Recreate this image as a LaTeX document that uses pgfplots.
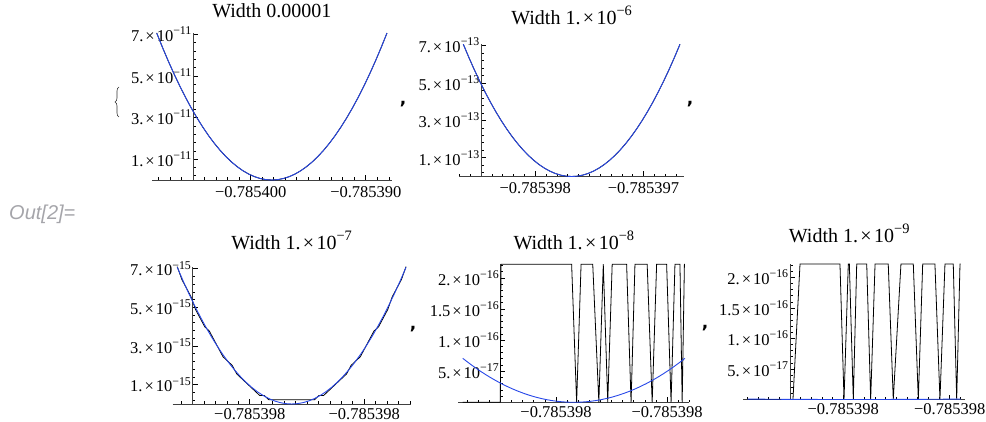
\documentclass[border=0pt]{standalone}
\usepackage{fontspec}
\setmainfont{Liberation Serif}
\newfontfamily\sansit{Liberation Sans}
\newfontfamily\commafont{DejaVu Sans}
\usepackage{graphicx}
\usepackage{pgfplots}
\pgfplotsset{compat=1.18}
\usepackage{pgfplotstable}
\usetikzlibrary{decorations.pathreplacing}

\definecolor{mblue}{RGB}{40,72,232}
\definecolor{outgray}{RGB}{165,165,170}
\newcommand\sq[1]{\raisebox{0.42em}{\scalebox{0.72}{#1}}}
\newcommand\tl[2]{#1\kern0.12em×\kern0.12em10\sq{−#2}}

% exact curve, d in tenths of the half width, y normalised so that y(+-10)=7.0711
\pgfplotstableread{
d y
-10 7.0711
-9.5 6.3817
-9 5.7276
-8.5 5.1088
-8 4.5255
-7.5 3.9775
-7 3.4648
-6.5 2.9875
-6 2.5456
-5.5 2.1390
-5 1.7678
-4.5 1.4319
-4 1.1314
-3.5 0.8662
-3 0.6364
-2.5 0.4419
-2 0.2828
-1.5 0.1591
-1 0.0707
-0.5 0.0177
0 0
0.5 0.0177
1 0.0707
1.5 0.1591
2 0.2828
2.5 0.4419
3 0.6364
3.5 0.8662
4 1.1314
4.5 1.4319
5 1.7678
5.5 2.1390
6 2.5456
6.5 2.9875
7 3.4648
7.5 3.9775
8 4.5255
8.5 5.1088
9 5.7276
9.5 6.3817
10 7.0711
}\parab

% numerically evaluated values, width 1e-7 (units 1e-15)
\pgfplotstableread{
d y
-10 7.1054
-9.6 6.4393
-9.2 5.9952
-8.8 5.5511
-8.4 4.8850
-8.0 4.4409
-7.6 3.9968
-7.2 3.7748
-6.8 3.3307
-6.4 2.8866
-6.0 2.4425
-5.6 2.2204
-5.2 1.9984
-4.8 1.5543
-4.4 1.3323
-4.0 1.1102
-3.6 0.8882
-3.2 0.6661
-2.8 0.4441
-2.4 0.4441
-2.0 0.2220
-1.6 0.2220
-1.2 0.2220
-0.8 0.2220
-0.4 0.2220
0 0.2220
0.4 0.2220
0.8 0.2220
1.2 0.2220
1.6 0.2220
2.0 0.2220
2.4 0.4441
2.8 0.4441
3.2 0.6661
3.6 0.8882
4.0 1.1102
4.4 1.3323
4.8 1.5543
5.2 1.9984
5.6 2.2204
6.0 2.4425
6.4 2.8866
6.8 3.3307
7.2 3.7748
7.6 3.9968
8.0 4.4409
8.4 4.8850
8.8 5.5511
9.2 5.9952
9.6 6.4393
10 7.1054
}\blackthree

% width 1e-8 (units 1e-16)
\pgfplotstableread{
d y
-10 0
-6.62 0
-6.56 2.2204
-0.2 2.2204
0.25 0
0.65 2.2204
1.7 2.2204
2.25 0
2.65 2.2204
3.05 0
3.45 2.2204
4.75 2.2204
5.15 0
5.5 2.2204
6.6 2.2204
7.05 0
7.45 2.2204
8.35 2.2204
8.75 0
9.1 2.2204
9.55 2.2204
9.75 0
9.95 2.2204
10 2.2204
}\blackfour

% width 1e-9 (units 1e-16)
\pgfplotstableread{
d y
-10 0
-5.74 0
-5.08 2.2204
-1.33 2.2204
-0.95 0
-0.55 2.2204
-0.45 2.2204
-0.08 0
0.24 2.2204
1.18 2.2204
1.55 0
1.96 2.2204
3.2 2.2204
3.67 0
4.39 2.2204
5.55 2.2204
6.02 0
6.43 2.2204
7.58 2.2204
8.05 0
8.52 2.2204
9.3 2.2204
9.62 0
9.93 2.2204
10 2.2204
}\blackfive

\pgfplotsset{
  mma/.style={
    scale only axis, axis lines=middle,
    axis line style={-, draw=black!75, line width=0.7pt},
    clip=false, tick align=inside,
    major tick length=5pt, minor tick length=2.8pt,
    tick style={draw=black, line width=0.7pt},
    tick label style={font=\fontsize{16.5}{18}\selectfont},
    xticklabel style={anchor=north, inner sep=2pt, yshift=-4pt},
    yticklabel style={anchor=east, inner sep=1.5pt},
    title style={font=\fontsize{20}{24}\selectfont, anchor=base, at={(0.5,1)}},
    anchor=south west, ymin=0,
    xtick={5,15},
  },
  low/.style={xticklabel style={yshift=2pt}},
  curve/.style={mblue, line width=0.9pt},
  num/.style={black, line width=0.8pt},
}

\begin{document}
\begin{tikzpicture}
\path[use as bounding box] (0pt,0pt) rectangle (986pt,-422pt);

% ---- Width 0.00001
\begin{axis}[mma, at={(152.1pt,-180pt)}, width=239.5pt, height=147pt,
  xmin=-3.5634, xmax=17.2366, ymax=7.0711,
  minor xtick={-3,...,17},
  xticklabels={−0.785400, −0.785390},
  ytick={1,3,5,7}, minor ytick={0.2,0.6,1.4,1.8,2.2,2.6,3.4,3.8,4.2,4.6,5.4,5.8,6.2,6.6},
  yticklabels={\tl{1.}{11},\tl{3.}{11},\tl{5.}{11},\tl{7.}{11}},
  title={Width 0.00001}, title style={yshift=9pt}]
\addplot[num] table[x expr=\thisrow{d}+6.8366, y=y] {\parab};
\addplot[curve] table[x expr=\thisrow{d}+6.8366, y=y] {\parab};
\end{axis}

% ---- Width 1e-6
\begin{axis}[mma, at={(459pt,-176.5pt)}, width=225.3pt, height=132.2pt,
  xmin=-2.034, xmax=18.766, ymax=7.0711,
  minor xtick={-2,...,18},
  xticklabels={−0.785398, −0.785397},
  ytick={1,3,5,7}, minor ytick={0.2,0.6,1.4,1.8,2.2,2.6,3.4,3.8,4.2,4.6,5.4,5.8,6.2,6.6},
  yticklabels={\tl{1.}{13},\tl{3.}{13},\tl{5.}{13},\tl{7.}{13}},
  title={Width \tl{1.}{6}}, title style={yshift=14pt}]
\addplot[num] table[x expr=\thisrow{d}+8.366, y=y] {\parab};
\addplot[curve] table[x expr=\thisrow{d}+8.366, y=y] {\parab};
\end{axis}

% ---- Width 1e-7
\begin{axis}[mma, low, at={(172.7pt,-404pt)}, width=237.9pt, height=136.7pt,
  xmin=-1.74, xmax=19.06, ymax=7.0711,
  minor xtick={-1,...,19},
  xticklabels={−0.785398, −0.785398},
  ytick={1,3,5,7}, minor ytick={0.2,0.6,1.4,1.8,2.2,2.6,3.4,3.8,4.2,4.6,5.4,5.8,6.2,6.6},
  yticklabels={\tl{1.}{15},\tl{3.}{15},\tl{5.}{15},\tl{7.}{15}},
  title={Width \tl{1.}{7}}, title style={yshift=12pt}]
\addplot[num] table[x expr=\thisrow{d}+8.66, y=y] {\blackthree};
\addplot[curve] table[x expr=\thisrow{d}+8.66, y=y] {\parab};
\end{axis}

% ---- Width 1e-8
\begin{axis}[mma, low, at={(458.3pt,-402.3pt)}, width=231.1pt, height=138.1pt,
  xmin=-3.797, xmax=17.003, ymax=2.2204,
  minor xtick={-3,...,17},
  xticklabels={−0.785398, −0.785398},
  ytick={0.5,1,1.5,2}, minor ytick={0.1,0.2,...,2.2},
  yticklabels={\tl{5.}{17},\tl{1.}{16},\tl{1.5}{16},\tl{2.}{16}},
  title={Width \tl{1.}{8}}, title style={yshift=9pt}]
\addplot[num] table[x expr=\thisrow{d}+6.603, y=y] {\blackfour};
\addplot[curve] table[x expr=\thisrow{d}+6.603, y expr=\thisrow{y}*0.1] {\parab};
\end{axis}

% ---- Width 1e-9
\begin{axis}[mma, low, at={(743.3pt,-399.5pt)}, width=221.7pt, height=135.4pt,
  xmin=-4.37, xmax=16.43, ymax=2.2204,
  minor xtick={-4,...,16},
  xticklabels={−0.785398, −0.785398},
  ytick={0.5,1,1.5,2}, minor ytick={0.1,0.2,...,2.2},
  yticklabels={\tl{5.}{17},\tl{1.}{16},\tl{1.5}{16},\tl{2.}{16}},
  title={Width \tl{1.}{9}}, title style={yshift=16pt, xshift=-5pt}]
\addplot[num] table[x expr=\thisrow{d}+6.03, y=y] {\blackfive};
\addplot[curve] table[x expr=\thisrow{d}+6.03, y expr=\thisrow{y}*0.001] {\parab};
\end{axis}

% ---- decorations of the output cell
\node[anchor=west, inner sep=0pt, text=outgray, font=\sansit\itshape\fontsize{20}{22}\selectfont] at (9pt,-214pt) {Out[2]=};
\draw[decorate, decoration={brace, amplitude=4pt}, line width=0.6pt, black!80] (119pt,-117pt) -- (119pt,-87pt);
\foreach \cx/\cy in {403/104, 690/104, 413/329, 705/328}
  \node[inner sep=0pt, font=\commafont\bfseries\fontsize{17}{19}\selectfont] at (\cx pt,-\cy pt) {,};
\end{tikzpicture}
\end{document}
